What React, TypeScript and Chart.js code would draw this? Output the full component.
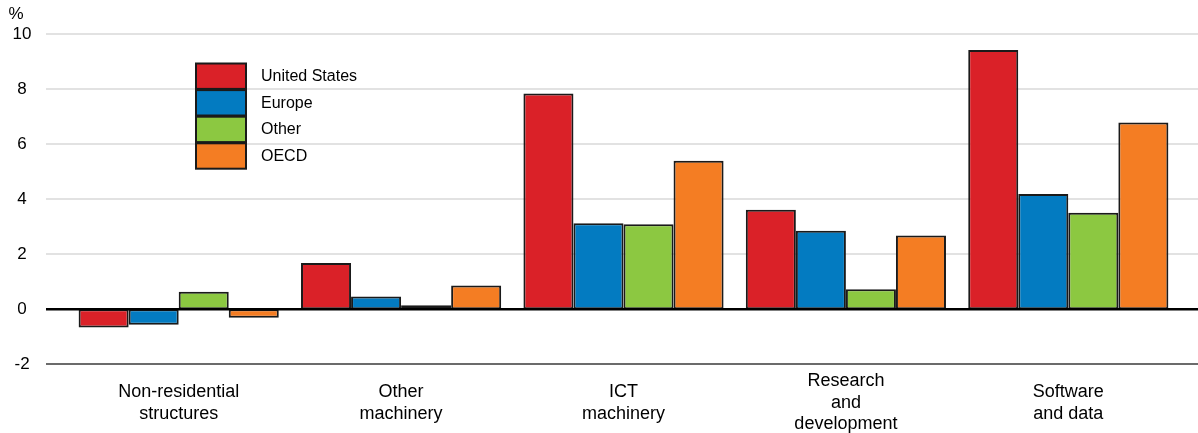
import React, { useEffect, useRef } from "react";
import { Chart, registerables } from "chart.js";

Chart.register(...registerables);

const categories: string[][] = [
  ["Non-residential", "structures"],
  ["Other", "machinery"],
  ["ICT", "machinery"],
  ["Research", "and", "development"],
  ["Software", "and data"],
];
const seriesNames = ["United States", "Europe", "Other", "OECD"];
const unitedStates = [-0.66, 1.68, 7.85, 3.62, 9.43];
const europe = [-0.56, 0.47, 3.13, 2.86, 4.19];
const other = [0.64, 0.15, 3.09, 0.73, 3.51];
const oecd = [-0.31, 0.87, 5.4, 2.68, 6.79];
const seriesColors = ["#DA2128", "#037BC1", "#8CC841", "#F47D23"];
const yTicks = [-2, 0, 2, 4, 6, 8, 10];
const yUnit = "%";

const FONT = "Arial, 'Liberation Sans', sans-serif";

const decorPlugin = {
  id: "decor",
  beforeDatasetsDraw(chart: any) {
    const y = chart.scales.y;
    const ctx = chart.ctx;
    ctx.save();
    for (const v of yTicks) {
      if (v === 0) continue;
      const py = Math.round(y.getPixelForValue(v));
      ctx.strokeStyle = v === yTicks[0] ? "#6b6b6b" : "#e2e2e2";
      ctx.lineWidth = 2;
      ctx.beginPath();
      ctx.moveTo(46, py);
      ctx.lineTo(chart.width, py);
      ctx.stroke();
    }
    ctx.restore();
  },
  afterDatasetsDraw(chart: any) {
    const y = chart.scales.y;
    const ctx = chart.ctx;
    ctx.save();
    const py = y.getPixelForValue(0);
    ctx.strokeStyle = "#000";
    ctx.lineWidth = 2.5;
    ctx.beginPath();
    ctx.moveTo(46, py);
    ctx.lineTo(chart.width, py);
    ctx.stroke();
    ctx.restore();
  },
  afterDraw(chart: any) {
    const ctx = chart.ctx;
    ctx.save();
    ctx.fillStyle = "#000";
    ctx.font = `17px ${FONT}`;
    ctx.textAlign = "center";
    ctx.textBaseline = "middle";
    ctx.fillText(yUnit, 16, 14);
    const x0 = 196;
    const y0 = 63.5;
    const step = 26.6;
    const w = 50;
    const h = 25.4;
    chart.data.datasets.forEach((ds: any, i: number) => {
      const top = y0 + i * step;
      ctx.fillStyle = ds.backgroundColor;
      ctx.fillRect(x0, top, w, h);
      ctx.strokeStyle = "#1a1a1a";
      ctx.lineWidth = 2;
      ctx.strokeRect(x0, top, w, h);
      ctx.fillStyle = "#000";
      ctx.font = `16px ${FONT}`;
      ctx.textAlign = "left";
      ctx.textBaseline = "middle";
      ctx.fillText(ds.label, 261, top + h / 2 + 0.5);
    });
    ctx.restore();
  },
};

export default function App() {
  const ref = useRef<HTMLCanvasElement | null>(null);

  useEffect(() => {
    if (!ref.current) return;
    const values = [unitedStates, europe, other, oecd];
    const chart = new Chart(ref.current, {
      type: "bar",
      data: {
        labels: categories,
        datasets: seriesNames.map((name, i) => ({
          label: name,
          data: values[i],
          backgroundColor: seriesColors[i],
          borderColor: "#1a1a1a",
          borderWidth: 2,
          borderSkipped: false,
          categoryPercentage: 0.9,
          barPercentage: 1.0,
        })),
      },
      options: {
        animation: false,
        responsive: false,
        devicePixelRatio: 1,
        layout: { padding: { top: 34.3, right: 18.5, bottom: 0, left: 0 } },
        plugins: {
          legend: { display: false },
          tooltip: { enabled: false },
          title: { display: false },
        },
        scales: {
          x: {
            grid: { display: false, drawTicks: false },
            border: { display: false },
            ticks: {
              color: "#000",
              padding: 17,
              maxRotation: 0,
              autoSkip: false,
              crossAlign: "center",
              font: { family: FONT, size: 18, lineHeight: 1.2 },
            },
            afterFit: (s: any) => {
              s.height = 68.7;
            },
          },
          y: {
            min: -2,
            max: 10,
            grid: { display: false, drawTicks: false },
            border: { display: false },
            ticks: {
              stepSize: 2,
              color: "#000",
              padding: 36,
              crossAlign: "center",
              font: { family: FONT, size: 17 },
            },
            afterFit: (s: any) => {
              s.width = 67.5;
              s.paddingTop = 10;
              s.paddingBottom = 10;
            },
          },
        },
      },
      plugins: [decorPlugin],
    });
    return () => chart.destroy();
  }, []);

  return (
    <div style={{ position: "absolute", left: 0, top: 0, width: 1198, height: 433, background: "#fff" }}>
      <canvas ref={ref} width={1198} height={433} style={{ display: "block" }} />
    </div>
  );
}
